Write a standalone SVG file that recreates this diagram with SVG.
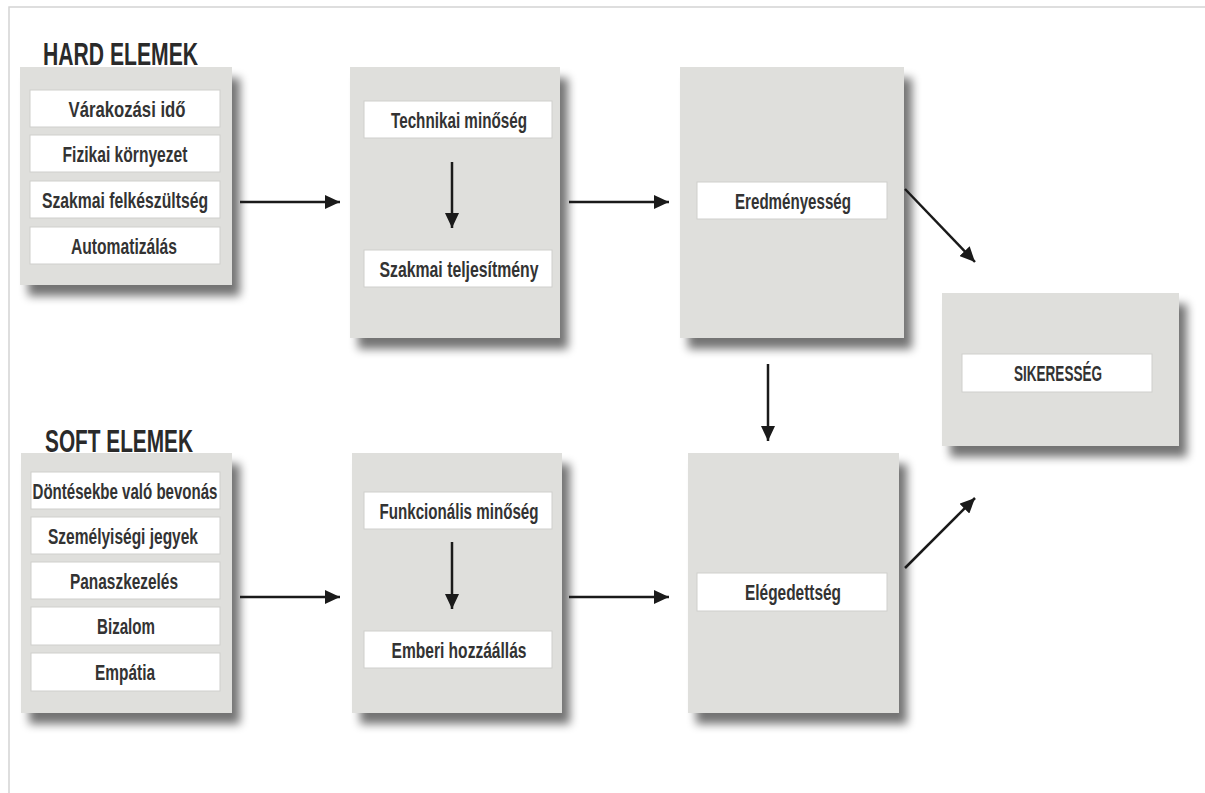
<svg xmlns="http://www.w3.org/2000/svg" width="1205" height="793" viewBox="0 0 1205 793">
<defs>
<filter id="sh" x="-20%" y="-20%" width="150%" height="150%">
<feGaussianBlur in="SourceAlpha" stdDeviation="5"/>
<feOffset dx="8" dy="11" result="b"/>
<feComponentTransfer><feFuncA type="linear" slope="0.55"/></feComponentTransfer>
<feMerge><feMergeNode/><feMergeNode in="SourceGraphic"/></feMerge>
</filter>
<marker id="ah" markerUnits="userSpaceOnUse" markerWidth="16" markerHeight="14" refX="15" refY="7" orient="auto">
<path d="M0,0 L15,7 L0,14 z" fill="#1a1a1a"/>
</marker>
<style>
.panel{fill:#dfdfdc;filter:url(#sh)}
.box{fill:#ffffff;stroke:#cfcfcc;stroke-width:1}
.t{font-family:"Liberation Sans",Arial,sans-serif;font-weight:bold;font-size:22px;fill:#333333;text-anchor:middle}
.h{font-family:"Liberation Sans",Arial,sans-serif;font-weight:bold;font-size:32px;fill:#2a2a2a}
.c{stroke:#1a1a1a;stroke-width:2.5;fill:none;marker-end:url(#ah)}
.frame{stroke:#d4d4d4;stroke-width:1.5;fill:none}
</style>
</defs>
<rect x="0" y="0" width="1205" height="793" fill="#ffffff"/>
<path class="frame" d="M1205,7 L9,7 L9,793"/>

<text class="h" x="43" y="65" textLength="155" lengthAdjust="spacingAndGlyphs">HARD ELEMEK</text>
<text class="h" x="45" y="452" textLength="148" lengthAdjust="spacingAndGlyphs">SOFT ELEMEK</text>

<g id="hard">
<rect class="panel" x="20" y="67" width="212" height="218"/>
<rect class="box" x="30" y="90" width="190" height="37"/>
<text class="t" x="127" y="116.5" textLength="117" lengthAdjust="spacingAndGlyphs">Várakozási idő</text>
<rect class="box" x="30" y="135" width="190" height="37"/>
<text class="t" x="125" y="161.5" textLength="125" lengthAdjust="spacingAndGlyphs">Fizikai környezet</text>
<rect class="box" x="30" y="181" width="190" height="37"/>
<text class="t" x="125" y="207.5" textLength="166" lengthAdjust="spacingAndGlyphs">Szakmai felkészültség</text>
<rect class="box" x="30" y="227" width="190" height="37"/>
<text class="t" x="124" y="253.5" textLength="106" lengthAdjust="spacingAndGlyphs">Automatizálás</text>
</g>

<g id="soft">
<rect class="panel" x="21" y="453" width="211" height="260"/>
<rect class="box" x="31" y="472" width="189" height="37"/>
<text class="t" x="125" y="498.5" textLength="185" lengthAdjust="spacingAndGlyphs">Döntésekbe való bevonás</text>
<rect class="box" x="31" y="517" width="189" height="37"/>
<text class="t" x="123" y="543.5" textLength="150" lengthAdjust="spacingAndGlyphs">Személyiségi jegyek</text>
<rect class="box" x="31" y="562" width="189" height="37"/>
<text class="t" x="124" y="588.5" textLength="108" lengthAdjust="spacingAndGlyphs">Panaszkezelés</text>
<rect class="box" x="31" y="607" width="189" height="38"/>
<text class="t" x="126" y="634" textLength="58" lengthAdjust="spacingAndGlyphs">Bizalom</text>
<rect class="box" x="31" y="653" width="189" height="38"/>
<text class="t" x="125" y="680" textLength="60" lengthAdjust="spacingAndGlyphs">Empátia</text>
</g>

<g id="technikai">
<rect class="panel" x="350" y="67" width="210" height="271"/>
<rect class="box" x="364" y="101" width="188" height="37"/>
<text class="t" x="459" y="127.5" textLength="136" lengthAdjust="spacingAndGlyphs">Technikai minőség</text>
<rect class="box" x="364" y="250" width="188" height="37"/>
<text class="t" x="459" y="276.5" textLength="159" lengthAdjust="spacingAndGlyphs">Szakmai teljesítmény</text>
</g>

<g id="funkcionalis">
<rect class="panel" x="352" y="453" width="210" height="260"/>
<rect class="box" x="364" y="492" width="188" height="37"/>
<text class="t" x="459" y="518.5" textLength="159" lengthAdjust="spacingAndGlyphs">Funkcionális minőség</text>
<rect class="box" x="364" y="631" width="188" height="37"/>
<text class="t" x="459" y="657.5" textLength="135" lengthAdjust="spacingAndGlyphs">Emberi hozzáállás</text>
</g>

<g id="eredmenyesseg">
<rect class="panel" x="680" y="67" width="224" height="271"/>
<rect class="box" x="697" y="182" width="190" height="37"/>
<text class="t" x="793" y="208.5" textLength="116" lengthAdjust="spacingAndGlyphs">Eredményesség</text>
</g>

<g id="elegedettseg">
<rect class="panel" x="688" y="453" width="211" height="260"/>
<rect class="box" x="697" y="573" width="190" height="38"/>
<text class="t" x="793" y="600" textLength="96" lengthAdjust="spacingAndGlyphs">Elégedettség</text>
</g>

<g id="sikeresseg">
<rect class="panel" x="942" y="293" width="237" height="153"/>
<rect class="box" x="962" y="354" width="190" height="38"/>
<text class="t" x="1058" y="381" textLength="88" lengthAdjust="spacingAndGlyphs">SIKERESSÉG</text>
</g>

<g id="connectors">
<line class="c" x1="240" y1="202" x2="340" y2="202"/>
<line class="c" x1="240" y1="597" x2="340" y2="597"/>
<line class="c" x1="452" y1="162" x2="452" y2="228"/>
<line class="c" x1="452" y1="542" x2="452" y2="609"/>
<line class="c" x1="569" y1="202" x2="669" y2="202"/>
<line class="c" x1="569" y1="597" x2="669" y2="597"/>
<line class="c" x1="768" y1="364" x2="768" y2="441"/>
<line class="c" x1="905" y1="189" x2="975" y2="262"/>
<line class="c" x1="905" y1="568" x2="975" y2="498"/>
</g>
</svg>
